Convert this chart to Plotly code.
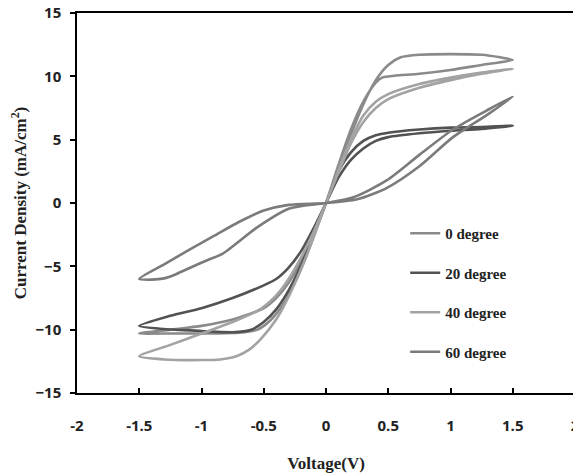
import plotly.graph_objects as go

# ---- data ----
series_names = ["0 degree", "20 degree", "40 degree", "60 degree"]
series_colors = ["#8a8a8a", "#525252", "#a3a3a3", "#7b7b7b"]

# 0 degree: loop (forward then return)
v0 = [-1.5, -1.2, -0.9, -0.7, -0.55, -0.45, -0.35, -0.25, -0.15, 0.0,
      0.1, 0.2, 0.3, 0.4, 0.5, 0.6, 0.75, 1.0, 1.25, 1.4, 1.5,
      1.25, 1.0, 0.75, 0.55, 0.45, 0.4, 0.3, 0.2, 0.1, 0.0,
      -0.1, -0.2, -0.3, -0.4, -0.5, -0.75, -1.0, -1.25, -1.5]
j0 = [-10.3, -10.3, -10.3, -10.25, -10.0, -9.3, -8.1, -6.3, -4.0, 0.0,
      2.7, 5.4, 7.8, 9.7, 10.9, 11.5, 11.7, 11.75, 11.7, 11.5, 11.3,
      10.9, 10.5, 10.2, 10.05, 9.9, 9.5, 8.0, 5.8, 3.0, 0.0,
      -2.4, -4.6, -6.3, -7.5, -8.3, -9.2, -9.7, -10.0, -10.3]

# 20 degree
v20 = [-1.5, -1.3, -1.0, -0.75, -0.6, -0.5, -0.4, -0.3, -0.2, -0.1, 0.0,
       0.1, 0.2, 0.3, 0.4, 0.5, 0.75, 1.0, 1.25, 1.5,
       1.25, 1.0, 0.75, 0.5, 0.4, 0.3, 0.2, 0.1, 0.0,
       -0.1, -0.2, -0.3, -0.4, -0.5, -0.75, -1.0, -1.25, -1.5]
j20 = [-9.7, -9.95, -10.1, -10.2, -10.0, -9.4, -8.4, -6.9, -4.9, -2.5, 0.0,
       2.5, 4.0, 4.9, 5.35, 5.55, 5.8, 5.95, 6.0, 6.1,
       5.85, 5.7, 5.5, 5.2, 4.9, 4.3, 3.4, 2.0, 0.0,
       -2.0, -3.8, -5.1, -6.0, -6.5, -7.5, -8.3, -8.9, -9.7]

# 40 degree
v40 = [-1.5, -1.3, -1.0, -0.85, -0.72, -0.62, -0.53, -0.4, -0.3, -0.2, -0.1, 0.0,
       0.1, 0.2, 0.3, 0.4, 0.5, 0.75, 1.0, 1.25, 1.5,
       1.25, 1.0, 0.75, 0.5, 0.4, 0.3, 0.2, 0.1, 0.0,
       -0.1, -0.2, -0.3, -0.4, -0.53, -0.75, -1.0, -1.25, -1.5]
j40 = [-12.1, -12.35, -12.4, -12.35, -12.1, -11.6, -10.8, -9.2, -7.4, -5.2, -2.7, 0.0,
       2.6, 5.0, 6.9, 8.0, 8.6, 9.4, 9.9, 10.3, 10.6,
       10.2, 9.7, 9.1, 8.2, 7.5, 6.4, 4.7, 2.4, 0.0,
       -2.3, -4.3, -6.0, -7.3, -8.4, -9.4, -10.3, -11.2, -12.1]

# 60 degree
v60 = [-1.5, -1.4, -1.3, -1.2, -1.1, -0.95, -0.83, -0.55, -0.3, 0.0,
       0.22, 0.49, 0.75, 1.02, 1.29, 1.5,
       1.3, 1.02, 0.75, 0.49, 0.25, 0.0,
       -0.3, -0.5, -0.7, -0.9, -1.1, -1.3, -1.5]
j60 = [-6.0, -6.05, -5.95, -5.6, -5.15, -4.5, -4.0, -1.9, -0.45, 0.0,
       0.45, 1.8, 3.8, 5.8, 7.3, 8.4,
       7.0, 5.2, 2.9, 1.2, 0.3, 0.0,
       -0.15, -0.6, -1.5, -2.6, -3.7, -4.85, -6.0]

x_ticks = [-2, -1.5, -1, -0.5, 0, 0.5, 1, 1.5, 2]
x_ticklabels = ["-2", "-1.5", "-1", "-0.5", "0", "0.5", "1", "1.5", "2"]
y_ticks = [-15, -10, -5, 0, 5, 10, 15]

all_v = [v0, v20, v40, v60]
all_j = [j0, j20, j40, j60]

fig = go.Figure()
for name, col, vv, jj in zip(series_names, series_colors, all_v, all_j):
    fig.add_trace(go.Scatter(
        x=vv, y=jj, mode="lines", name=name, legendgroup=name,
        line=dict(color=col, width=2.6, shape="spline", smoothing=0.7),
    ))

tick_font = dict(family="Open Sans", size=15, color="#222222", weight="bold")
title_font = dict(family="Liberation Serif", size=17, color="#222222", weight="bold")

# page body has an 8px margin: figure is sized/offset to fit the 581x473 window
fig.update_layout(
    width=573, height=465,
    margin=dict(l=69, r=6, t=5, b=80, autoexpand=False),
    plot_bgcolor="white", paper_bgcolor="white",
    showlegend=True,
    legend=dict(
        x=0.659, y=0.463, xanchor="left", yanchor="top",
        font=dict(family="Liberation Serif", size=15, color="#222222", weight="bold"),
        tracegroupgap=17, bgcolor="rgba(0,0,0,0)",
        traceorder="grouped",
    ),
    xaxis=dict(
        range=[-2, 2], tickvals=x_ticks, ticktext=x_ticklabels,
        showgrid=False, zeroline=False, automargin=False,
        showline=True, linecolor="black", linewidth=1.5, mirror=True,
        ticks="inside", ticklen=5, tickcolor="black", tickwidth=1.5,
        ticklabelstandoff=18, ticklabeloverflow="allow",
        tickfont=tick_font,
        title=dict(text="Voltage(V)", font=title_font, standoff=24),
    ),
    yaxis=dict(
        range=[-15, 15], tickvals=y_ticks,
        showgrid=False, zeroline=False, automargin=False,
        showline=True, linecolor="black", linewidth=1.5, mirror=True,
        ticks="outside", ticklen=5, tickcolor="black", tickwidth=1.5,
        ticklabelstandoff=6, ticklabeloverflow="allow",
        tickfont=tick_font,
        title=dict(text="Current Density (mA/cm<sup>2</sup>)", font=title_font, standoff=13),
    ),
)

fig.write_html("out.html")
